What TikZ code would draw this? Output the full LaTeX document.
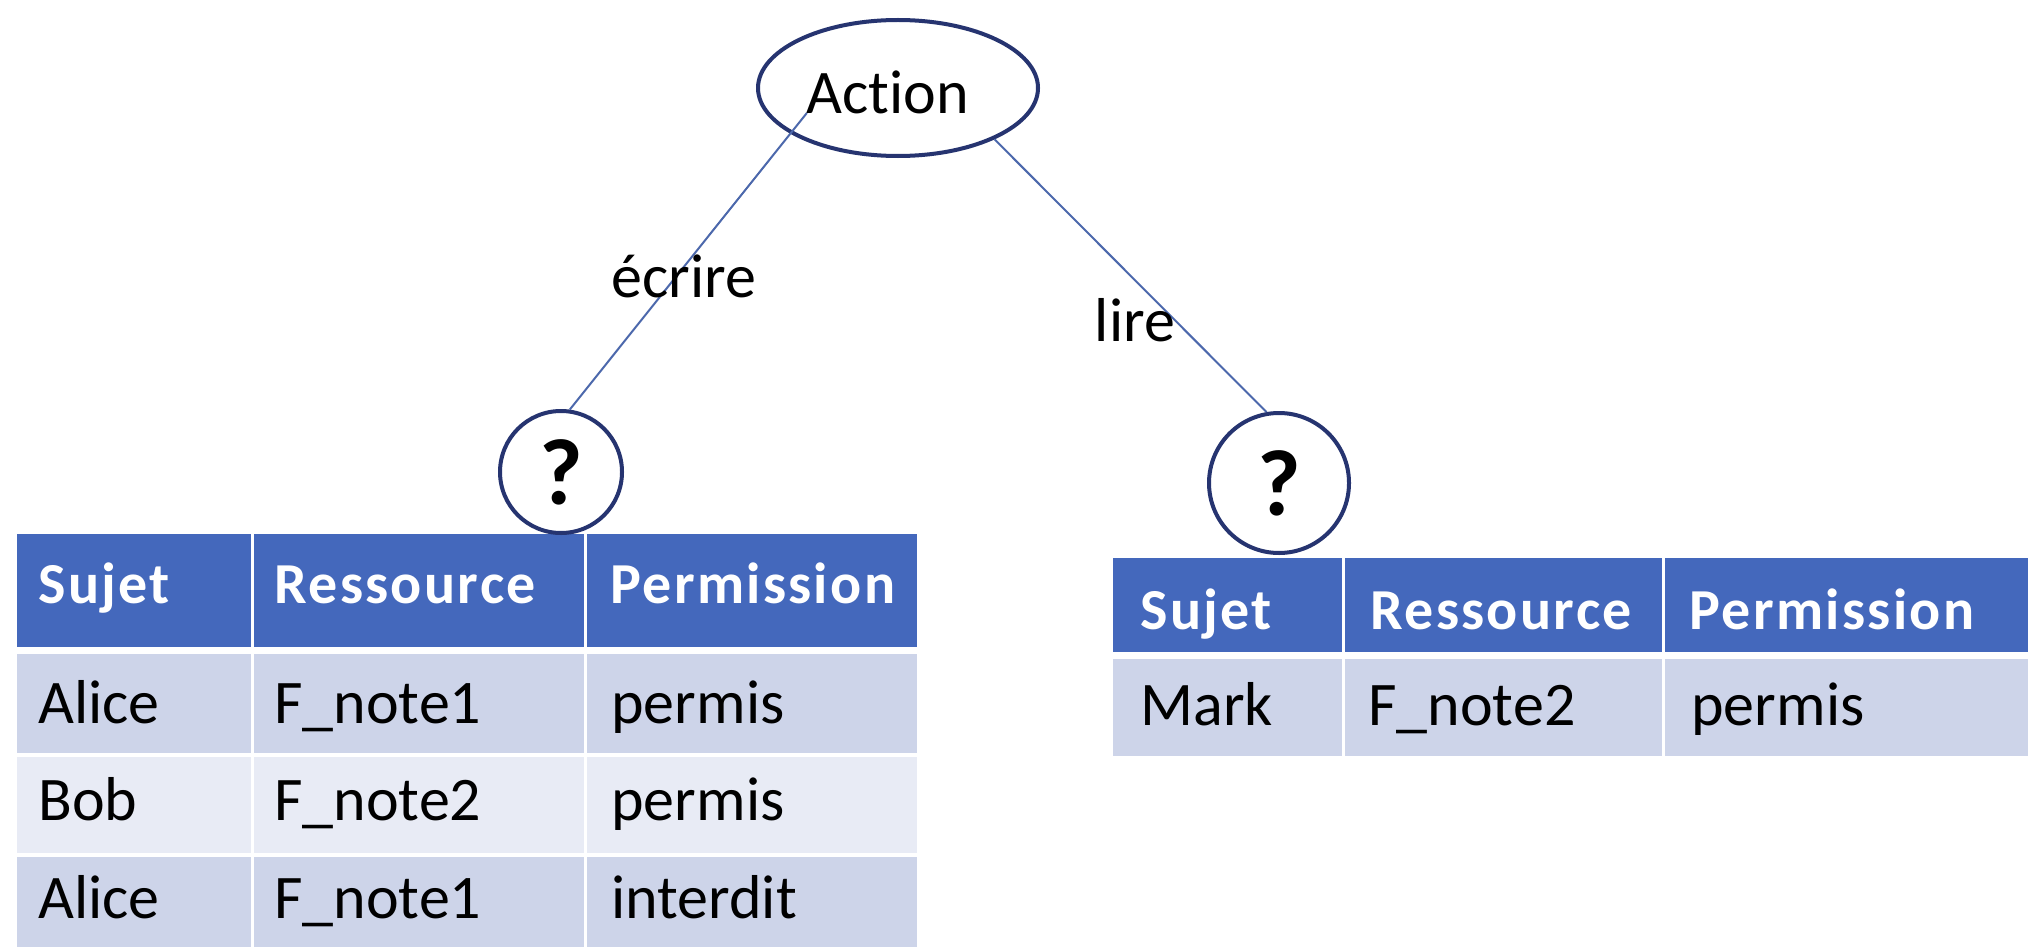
\documentclass[tikz,border=0pt]{standalone}
\usepackage{fontspec}
\setmainfont{Carlito}[Ligatures=NoCommon]
\newfontfamily\hdrfont{Carlito}[LetterSpace=4, Ligatures=NoCommon]
\usetikzlibrary{shapes.geometric}

\definecolor{hdrblue}{RGB}{68,104,188}
\definecolor{rowdark}{RGB}{205,212,233}
\definecolor{rowlight}{RGB}{232,235,245}
\definecolor{navy}{RGB}{38,52,112}
\definecolor{linkblue}{RGB}{76,104,172}

\begin{document}
\begin{tikzpicture}[x=0.5pt,y=-0.5pt,
  txt/.style={inner sep=0pt, font=\fontsize{31}{37}\selectfont},
  hdrtxt/.style={inner sep=0pt, anchor=base west, text=white, font=\hdrfont\fontsize{29}{34}\selectfont\bfseries},
  celltxt/.style={txt, anchor=base west, text=black},
  hdrcell/.style={fill=hdrblue},
  darkcell/.style={fill=rowdark},
  lightcell/.style={fill=rowlight},
  qnode/.style={circle, draw=navy, fill=white, line width=2pt, inner sep=0pt, font=\fontsize{47}{52}\selectfont\bfseries},
  link/.style={draw=linkblue, line width=1pt},
  edgelabel/.style={txt}
]
% page frame
\useasboundingbox (0,0) rectangle (2028,947);
\fill[white] (0,0) rectangle (2028,947);

% ---- left table: cells ----
\fill[hdrcell] (17,534) rectangle (251,647);
\fill[hdrcell] (254,534) rectangle (584,647);
\fill[hdrcell] (587,534) rectangle (917,647);
\fill[darkcell] (17,654) rectangle (251,753);
\fill[darkcell] (254,654) rectangle (584,753);
\fill[darkcell] (587,654) rectangle (917,753);
\fill[lightcell] (17,757) rectangle (251,853);
\fill[lightcell] (254,757) rectangle (584,853);
\fill[lightcell] (587,757) rectangle (917,853);
\fill[darkcell] (17,857) rectangle (251,947);
\fill[darkcell] (254,857) rectangle (584,947);
\fill[darkcell] (587,857) rectangle (917,947);

% ---- left table: texts ----
\node[hdrtxt] (lh1) at (38,603) {Sujet};
\node[hdrtxt] (lh2) at (274,603) {Ressource};
\node[hdrtxt] (lh3) at (610,603) {Permission};
\node[celltxt] (la1) at (38,723) {Alice};
\node[celltxt] (la2) at (274,723) {F\_note1};
\node[celltxt] (la3) at (611,723) {permis};
\node[celltxt] (lb1) at (38,820) {Bob};
\node[celltxt] (lb2) at (274,820) {F\_note2};
\node[celltxt] (lb3) at (611,820) {permis};
\node[celltxt] (lc1) at (38,918) {Alice};
\node[celltxt] (lc2) at (274,918) {F\_note1};
\node[celltxt] (lc3) at (611,918) {interdit};

% ---- right table: cells ----
\fill[hdrcell] (1113,558) rectangle (1342,652);
\fill[hdrcell] (1345,558) rectangle (1662,652);
\fill[hdrcell] (1665,558) rectangle (2028,652);
\fill[darkcell] (1113,659) rectangle (1342,756);
\fill[darkcell] (1345,659) rectangle (1662,756);
\fill[darkcell] (1665,659) rectangle (2028,756);

% ---- right table: texts ----
\node[hdrtxt] (rh1) at (1140,629) {Sujet};
\node[hdrtxt] (rh2) at (1370,629) {Ressource};
\node[hdrtxt] (rh3) at (1689,629) {Permission};
\node[celltxt] (ra1) at (1140,725) {Mark};
\node[celltxt] (ra2) at (1368,725) {F\_note2};
\node[celltxt] (ra3) at (1691,725) {permis};

% ---- tree ----
\node[ellipse, draw=navy, line width=2pt, minimum width=140pt, minimum height=68pt,
      inner sep=0pt, text height=25pt, text depth=0pt,
      font=\fontsize{31}{37}\selectfont] (action) at (898,88) {Action\kern10pt};
\node[qnode, minimum size=61pt] (q1) at (561,472) {?};
\node[qnode, minimum size=70pt] (q2) at (1279,483) {?};

\draw[link] (q1.82) -- (action.text);
\draw[link] (action.332) -- (q2.100);

\node[edgelabel] (lw) at (684,276) {écrire};
\node[edgelabel] (lr) at (1135,320) {lire};
\end{tikzpicture}
\end{document}
